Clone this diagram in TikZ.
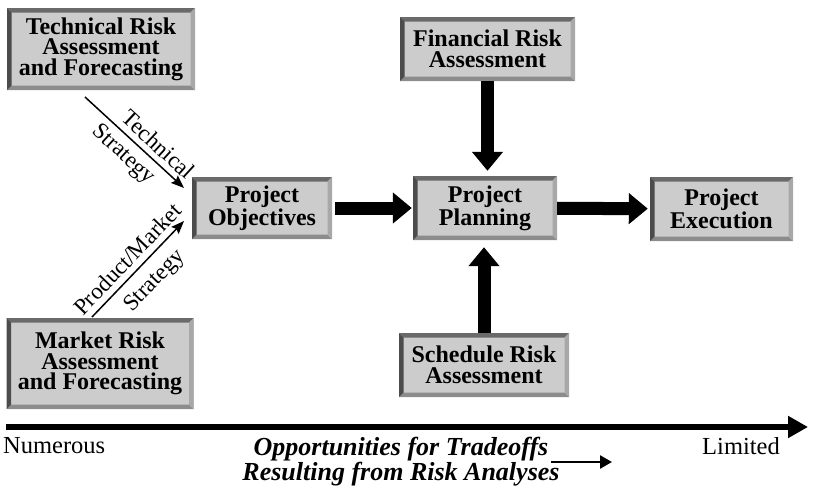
\documentclass[tikz,border=0pt]{standalone}
\usepackage{fontspec}
\setmainfont{Liberation Serif}
\usetikzlibrary{arrows.meta}

\definecolor{boxgray}{HTML}{CCCCCC}
\definecolor{bevtop}{HTML}{6A6A6A}
\definecolor{bevleft}{HTML}{4C4C4C}
\definecolor{bevright}{HTML}{A8A8A8}
\definecolor{bevbottom}{HTML}{8C8C8C}

\begin{document}
\begin{tikzpicture}[x=1pt, y=-1pt,
    riskbox/.style={rectangle, fill=boxgray, align=center, inner sep=0pt,
      font={\fontsize{24}{20.5}\selectfont\bfseries},
      path picture={
        \path (path picture bounding box.south west) coordinate (bsw)
              (path picture bounding box.north east) coordinate (bne)
              (path picture bounding box.north west) coordinate (bnw)
              (path picture bounding box.south east) coordinate (bse);
        \fill[bevtop] (bnw) -- (bne) -- ([shift={(-4.5pt,-4.5pt)}]bne) -- ([shift={(4.5pt,-4.5pt)}]bnw) -- cycle;
        \fill[bevbottom] (bsw) -- (bse) -- ([shift={(-4.5pt,4.5pt)}]bse) -- ([shift={(4.5pt,4.5pt)}]bsw) -- cycle;
        \fill[bevleft] (bnw) -- ([shift={(4.5pt,-4.5pt)}]bnw) -- ([shift={(4.5pt,4.5pt)}]bsw) -- (bsw) -- cycle;
        \fill[bevright] (bne) -- (bse) -- ([shift={(-4.5pt,4.5pt)}]bse) -- ([shift={(-4.5pt,-4.5pt)}]bne) -- cycle;
      }},
    blockarrow/.style={line width=13pt, -{Triangle[length=19pt, width=30pt]}},
    thinarrow/.style={line width=1.5pt, -{Stealth[length=13pt, width=10pt, inset=2pt]}},
    label/.style={font={\fontsize{23}{23}\selectfont}, inner sep=3pt}]
    \useasboundingbox (0,0) rectangle (815,490);

    \node[riskbox, minimum width=188pt, minimum height=82pt] (tech) at (101, 49) {Technical Risk\\Assessment\\and Forecasting};
    \node[riskbox, minimum width=187pt, minimum height=91pt] (market) at (100, 363.5) {Market Risk\\Assessment\\and Forecasting};
    \node[riskbox, minimum width=175pt, minimum height=64pt] (fin) at (487.5, 49) {Financial Risk\\Assessment};
    \node[riskbox, minimum width=140pt, minimum height=62pt] (obj) at (262, 208) {Project\\Objectives};
    \node[riskbox, minimum width=144pt, minimum height=64pt] (plan) at (485, 208) {Project\\Planning};
    \node[riskbox, minimum width=143pt, minimum height=64pt] (exec) at (721.5, 209) {Project\\Execution};
    \node[riskbox, minimum width=170pt, minimum height=64pt] (sched) at (484, 365) {Schedule Risk\\Assessment};

    \coordinate (techout) at (85, 97);
    \coordinate (techin) at (184, 188);
    \coordinate (mktout) at (92, 317);
    \coordinate (mktin) at (184, 221);

    \draw[thinarrow] (techout) -- node[label, sloped, above=3pt, pos=0.64] {Technical} node[label, sloped, below=3pt, pos=0.5] {Strategy} (techin);
    \draw[thinarrow] (mktout) -- node[label, sloped, above=3pt, pos=0.5] {Product/Market} node[label, sloped, below=7pt, pos=0.52] {Strategy} (mktin);

    \draw[blockarrow, shorten <=3pt, shorten >=1pt] (obj) -- (plan);
    \draw[blockarrow, shorten >=2pt] (plan) -- (exec);
    \draw[blockarrow, shorten >=5pt] (fin.south) -- (fin.south|-plan.north);
    \draw[blockarrow, shorten >=7pt] (sched.north) -- (sched.north|-plan.south);

    \coordinate (axl) at (6, 427);
    \coordinate (axr) at (808, 427);
    \draw[line width=6pt, -{Triangle[length=20pt, width=21pt]}] (axl) -- (axr);

    \node[font={\fontsize{24.5}{24}\selectfont}, anchor=base west, inner sep=0pt] (many) at (3, 453) {Numerous};
    \node[font={\fontsize{24.5}{24}\selectfont}, anchor=base east, inner sep=0pt] (few) at (780, 454) {Limited};
    \node[font={\fontsize{26}{25}\selectfont\bfseries\itshape}, align=center, inner sep=0pt] (trade) at (401, 462) {Opportunities for Tradeoffs\\Resulting from Risk Analyses};

    \coordinate (tradel) at (551, 462);
    \coordinate (trader) at (612, 462);
    \draw[line width=2.5pt, -{Triangle[length=12pt, width=13pt]}] (tradel) -- (trader);
\end{tikzpicture}
\end{document}
